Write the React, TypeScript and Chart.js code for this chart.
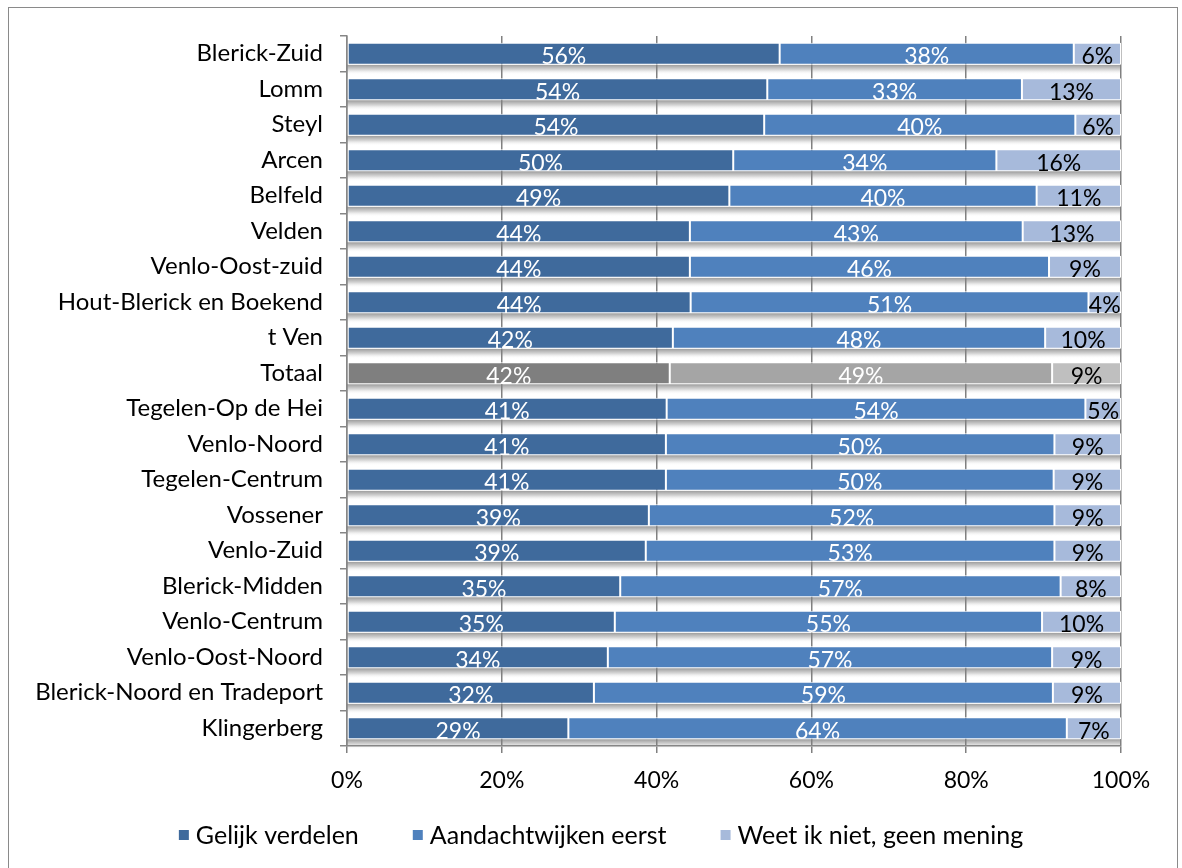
import React, { useEffect, useRef } from "react";
import { Chart, registerables } from "chart.js";

Chart.register(...registerables);

const categories = [
  "Blerick-Zuid",
  "Lomm",
  "Steyl",
  "Arcen",
  "Belfeld",
  "Velden",
  "Venlo-Oost-zuid",
  "Hout-Blerick en Boekend",
  "t Ven",
  "Totaal",
  "Tegelen-Op de Hei",
  "Venlo-Noord",
  "Tegelen-Centrum",
  "Vossener",
  "Venlo-Zuid",
  "Blerick-Midden",
  "Venlo-Centrum",
  "Venlo-Oost-Noord",
  "Blerick-Noord en Tradeport",
  "Klingerberg",
];

const gelijkVerdelen = [55.9, 54.3, 53.9, 49.9, 49.4, 44.3, 44.3, 44.4, 42.1, 41.7, 41.3, 41.2, 41.2, 39.0, 38.6, 35.3, 34.6, 33.7, 31.9, 28.6];
const aandachtwijkenEerst = [38.0, 32.9, 40.2, 34.0, 39.7, 43.0, 46.4, 51.4, 48.1, 49.4, 54.1, 50.2, 50.1, 52.4, 52.8, 56.9, 55.2, 57.4, 59.3, 64.4];
const weetIkNiet = [6.1, 12.8, 5.9, 16.1, 10.9, 12.7, 9.3, 4.2, 9.8, 8.9, 4.6, 8.6, 8.7, 8.6, 8.6, 7.8, 10.2, 8.9, 8.8, 7.0];

const seriesNames = ["Gelijk verdelen", "Aandachtwijken eerst", "Weet ik niet, geen mening"];
const xTicks = [0, 20, 40, 60, 80, 100];

const seriesColors = ["#3F6A9C", "#4F81BD", "#A7BADB"];
const totaalColors = ["#7F7F7F", "#A5A5A5", "#BFBFBF"];
const labelColors = ["#FFFFFF", "#FFFFFF", "#000000"];

const FONT = "Lato, 'Open Sans', sans-serif";

const floorPlugin = {
  id: "floor",
  beforeDraw(chart: any) {
    const ctx = chart.ctx;
    const area = chart.chartArea;
    const meta = chart.getDatasetMeta(0);
    ctx.save();
    meta.data.forEach((el: any) => {
      const bottom = el.y + el.height / 2;
      const g = ctx.createLinearGradient(0, bottom, 0, bottom + 10);
      g.addColorStop(0, "#9c9c9c");
      g.addColorStop(0.5, "#d8d8d8");
      g.addColorStop(1, "rgba(255,255,255,0)");
      ctx.fillStyle = g;
      ctx.fillRect(area.left, bottom, area.right - area.left, 10);
    });
    ctx.restore();
  },
};

const labelPlugin = {
  id: "segLabels",
  afterDatasetsDraw(chart: any) {
    const ctx = chart.ctx;
    ctx.save();
    ctx.font = `23px ${FONT}`;
    ctx.textAlign = "center";
    ctx.textBaseline = "middle";
    chart.data.datasets.forEach((ds: any, i: number) => {
      const meta = chart.getDatasetMeta(i);
      meta.data.forEach((el: any, j: number) => {
        const v = ds.data[j];
        const cx = (el.x + el.base) / 2;
        const cy = el.y + 3;
        ctx.fillStyle = labelColors[i];
        ctx.fillText(Math.round(v) + "%", cx, cy);
      });
    });
    ctx.restore();
  },
};

const legendPlugin = {
  id: "customLegend",
  afterDraw(chart: any) {
    const ctx = chart.ctx;
    ctx.save();
    ctx.font = `25px ${FONT}`;
    ctx.textBaseline = "middle";
    ctx.textAlign = "left";
    const box = 10;
    const boxGap = 7;
    const gap = 54;
    const widths = seriesNames.map((n) => box + boxGap + ctx.measureText(n).width);
    const total = widths.reduce((a, b) => a + b, 0) + gap * (seriesNames.length - 1);
    const centerX = 601;
    const y = 835;
    let x = centerX - total / 2;
    seriesNames.forEach((n, i) => {
      ctx.fillStyle = seriesColors[i];
      ctx.fillRect(x, y - box / 2, box, box);
      ctx.fillStyle = "#000";
      ctx.fillText(n, x + box + boxGap, y + 1);
      x += widths[i] + gap;
    });
    ctx.restore();
  },
};

export default function App() {
  const ref = useRef<HTMLCanvasElement | null>(null);

  useEffect(() => {
    if (!ref.current) return;
    const seriesData = [gelijkVerdelen, aandachtwijkenEerst, weetIkNiet];
    const chart = new Chart(ref.current, {
      type: "bar",
      data: {
        labels: categories,
        datasets: seriesData.map((d, i) => ({
          label: seriesNames[i],
          data: d,
          backgroundColor: categories.map((c) => (c === "Totaal" ? totaalColors[i] : seriesColors[i])),
          borderColor: "#FFFFFF",
          borderWidth: 1,
          borderSkipped: false,
          barPercentage: 0.62,
          categoryPercentage: 1,
        })),
      },
      options: {
        indexAxis: "y",
        responsive: false,
        animation: false,
        layout: { padding: { top: 36, right: 61, left: 0, bottom: 53 } },
        plugins: {
          legend: { display: false },
          tooltip: { enabled: false },
        },
        scales: {
          x: {
            stacked: true,
            min: 0,
            max: 100,
            afterBuildTicks: (scale: any) => {
              scale.ticks = xTicks.map((v) => ({ value: v }));
            },
            afterFit: (scale: any) => {
              scale.height = 69;
            },
            ticks: {
              color: "#000",
              font: { family: FONT, size: 23 },
              padding: 14,
              maxRotation: 0,
              callback: (v: any) => v + "%",
            },
            grid: { color: "#808080", lineWidth: 1.5, tickLength: 7 },
            border: { display: true, color: "#868686", width: 1.5 },
          },
          y: {
            stacked: true,
            afterFit: (scale: any) => {
              scale.width = 347;
            },
            ticks: {
              color: "#000",
              font: { family: FONT, size: 24 },
              padding: 17,
              autoSkip: false,
            },
            grid: { drawOnChartArea: false, color: "#868686", lineWidth: 1.5, tickLength: 7, offset: true },
            border: { display: true, color: "#868686", width: 1.5 },
          },
        },
      },
      plugins: [floorPlugin, labelPlugin, legendPlugin],
    } as any);
    return () => chart.destroy();
  }, []);

  return (
    <div style={{ position: "fixed", left: 0, top: 0, width: 1182, height: 868, overflow: "hidden", background: "#fff" }}>
      <div
        style={{
          position: "absolute",
          left: 8,
          top: 7,
          width: 1168,
          height: 900,
          border: "1.5px solid #8a8a8a",
          background: "#fff",
        }}
      />
      <canvas ref={ref} width={1182} height={868} style={{ position: "absolute", left: 0, top: 0 }} />
    </div>
  );
}
